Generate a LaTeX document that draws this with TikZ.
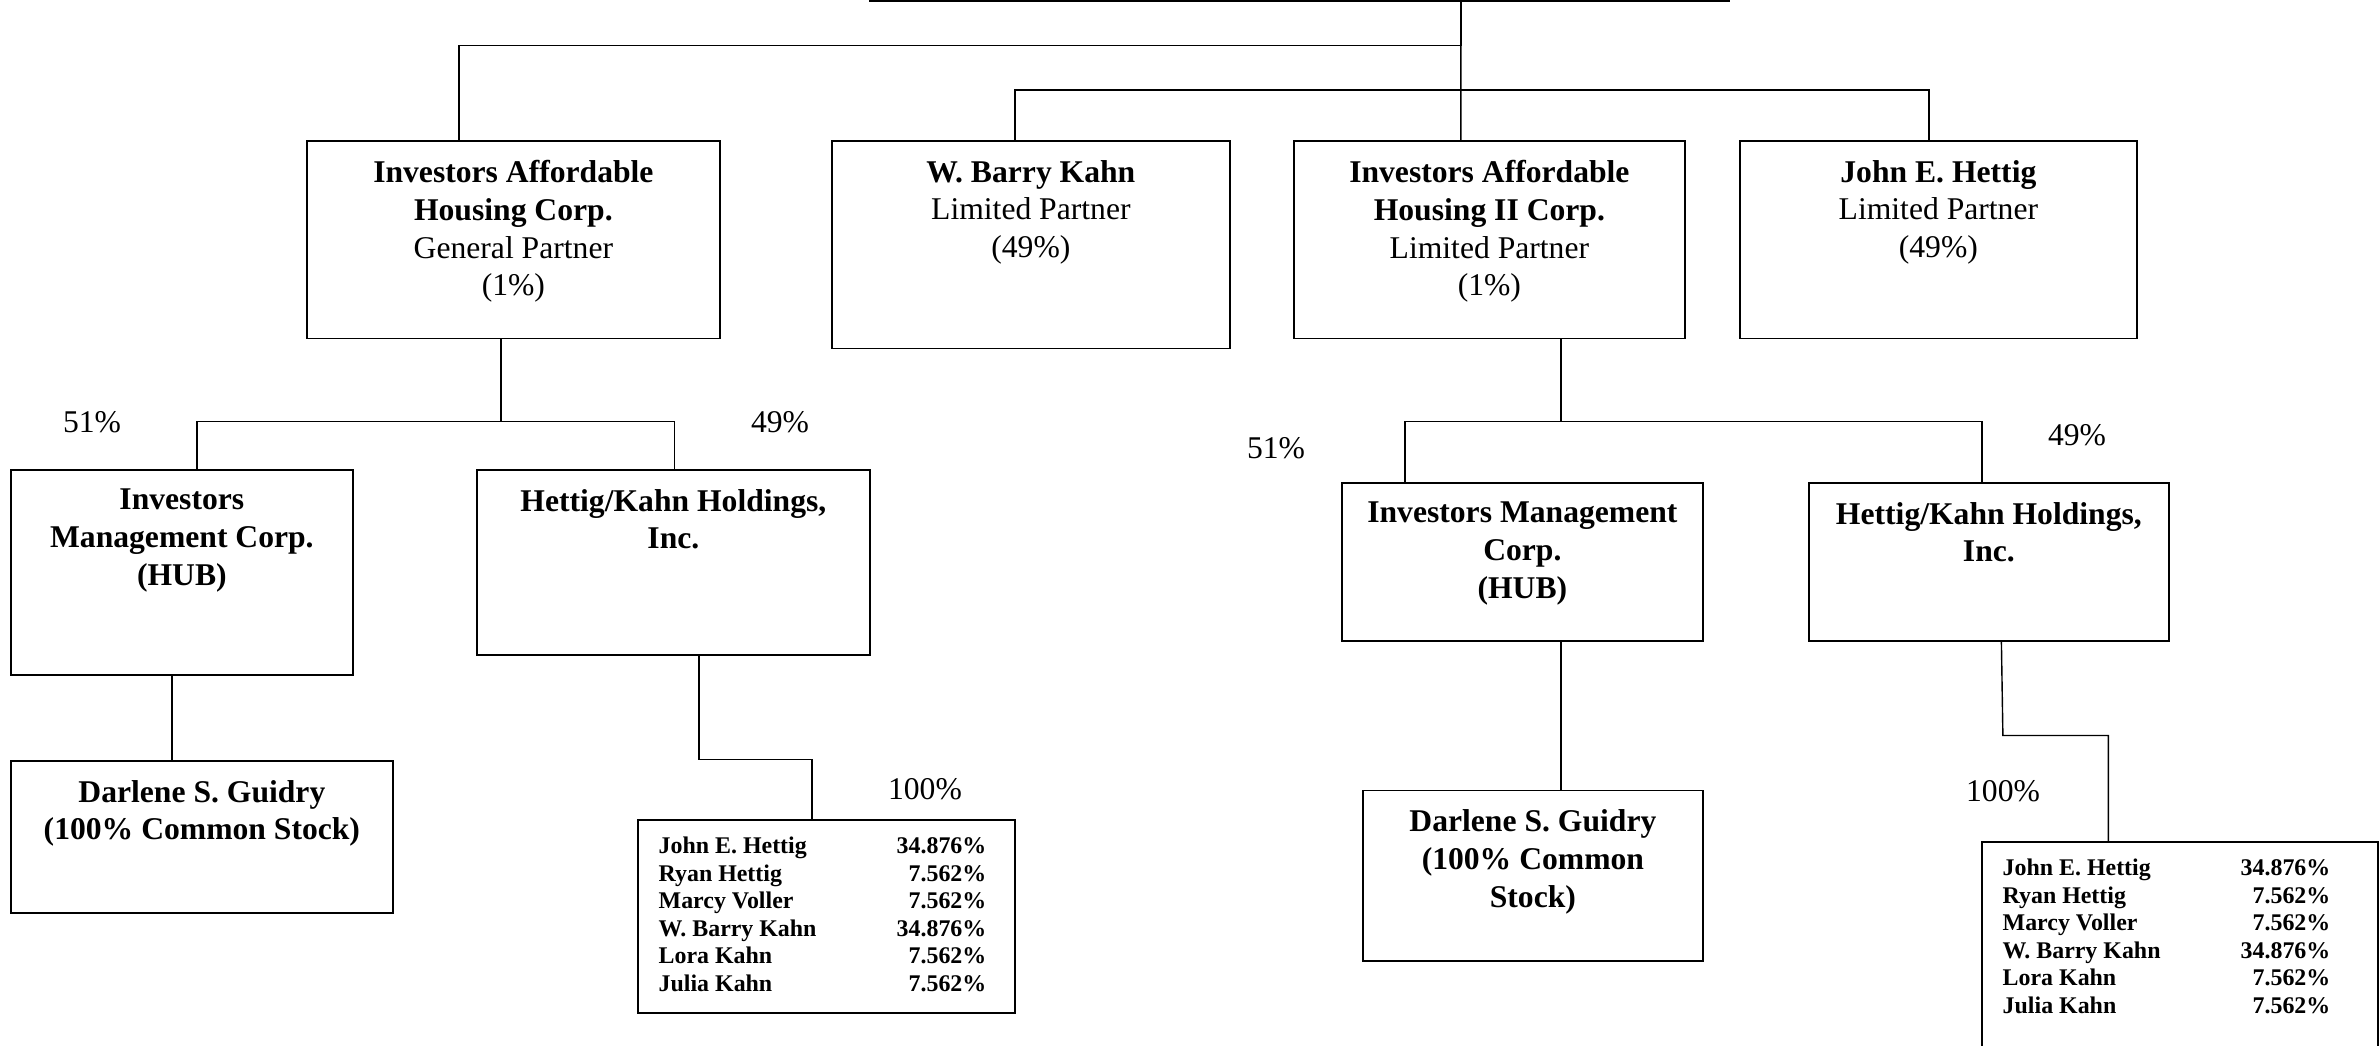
\documentclass[tikz,border=0pt]{standalone}
\usepackage{fontspec}
\setmainfont{Liberation Serif}
\tikzset{
  box/.style 2 args={draw, line width=0.5pt, inner sep=0pt, anchor=north west,
    minimum width=#1cm, minimum height=#2cm},
  link/.style={line width=0.4pt},
  head/.style={anchor=north, inner sep=0pt, align=center, font=\fontsize{9}{10.75}\selectfont},
  pct/.style={inner sep=0pt, font=\fontsize{9}{10.75}\selectfont},
  share/.style={inner sep=0pt, font=\bfseries\fontsize{6.8}{7.85}\selectfont},
}
\begin{document}
\begin{tikzpicture}
\useasboundingbox (0,0) rectangle (23.79,-10.45);
% boxes
\node[box={8.59}{1}, anchor=south west] (top) at (8.69,-0.02) {};
\node[box={4.13}{1.975}] (iah) at (3.06,-1.40) {};
\node[box={3.98}{2.075}] (wbk) at (8.31,-1.40) {};
\node[box={3.91}{1.975}] (iah2) at (12.93,-1.40) {};
\node[box={3.97}{1.975}] (jeh) at (17.39,-1.40) {};
\node[box={3.42}{2.05}] (imc) at (0.10,-4.69) {};
\node[box={3.93}{1.85}] (hkh) at (4.76,-4.69) {};
\node[box={3.82}{1.52}] (dsg) at (0.10,-7.60) {};
\node[box={3.77}{1.93}] (own) at (6.37,-8.19) {};
\node[box={3.61}{1.58}] (imc2) at (13.41,-4.82) {};
\node[box={3.60}{1.58}] (hkh2) at (18.08,-4.82) {};
\node[box={3.40}{1.705}] (dsg2) at (13.62,-7.895) {};
\node[box={3.96}{2.5}] (own2) at (19.81,-8.41) {};

% box texts
\node[head] (iah-t) at ([yshift=-1.95mm]iah.north)
  {\textbf{Investors Affordable}\\\textbf{Housing Corp.}\\General Partner\\(1\%)};
\node[head] (wbk-t) at ([yshift=-1.95mm]wbk.north)
  {\textbf{W. Barry Kahn}\\Limited Partner\\(49\%)};
\node[head] (iah2-t) at ([yshift=-1.95mm]iah2.north)
  {\textbf{Investors Affordable}\\\textbf{Housing II Corp.}\\Limited Partner\\(1\%)};
\node[head] (jeh-t) at ([yshift=-1.95mm]jeh.north)
  {\textbf{John E. Hettig}\\Limited Partner\\(49\%)};
\node[head] (imc-t) at ([yshift=-1.95mm]imc.north)
  {\textbf{Investors}\\\textbf{Management Corp.}\\\textbf{(HUB)}};
\node[head] (hkh-t) at ([yshift=-1.95mm]hkh.north)
  {\textbf{Hettig/Kahn Holdings,}\\\textbf{Inc.}};
\node[head] (dsg-t) at ([yshift=-1.95mm]dsg.north)
  {\textbf{Darlene S. Guidry}\\\textbf{(100\% Common Stock)}};
\node[head] (imc2-t) at ([yshift=-1.95mm]imc2.north)
  {\textbf{Investors Management}\\\textbf{Corp.}\\\textbf{(HUB)}};
\node[head] (hkh2-t) at ([yshift=-1.95mm]hkh2.north)
  {\textbf{Hettig/Kahn Holdings,}\\\textbf{Inc.}};
\node[head] (dsg2-t) at ([yshift=-1.95mm]dsg2.north)
  {\textbf{Darlene S. Guidry}\\\textbf{(100\% Common}\\\textbf{Stock)}};

% shareholders
\foreach \who in {own,own2}{
  \foreach \nm/\pc [count=\i] in {John E. Hettig/34.876\%, Ryan Hettig/7.562\%,
      Marcy Voller/7.562\%, W. Barry Kahn/34.876\%, Lora Kahn/7.562\%, Julia Kahn/7.562\%}{
    \pgfmathsetmacro{\dy}{-0.345-(\i-1)*0.276}
    \node[share, anchor=base west] (\who-n\i) at ([xshift=2.1mm, yshift=\dy cm]\who.north west) {\nm};
    \node[share, anchor=base east] (\who-p\i) at ([xshift=35mm, yshift=\dy cm]\who.north west) {\pc};
  }
}

% percentages
\node[pct] (p51a) at (0.92,-4.22) {51\%};
\node[pct] (p49a) at (7.80,-4.22) {49\%};
\node[pct] (p100a) at (9.25,-7.89) {100\%};
\node[pct] (p51b) at (12.76,-4.48) {51\%};
\node[pct] (p49b) at (20.77,-4.35) {49\%};
\node[pct] (p100b) at (20.03,-7.91) {100\%};

% connectors
\coordinate (trunk) at ([xshift=16.15mm]top.south);
\draw[link] (trunk) -- ([xshift=-2.85mm]iah2.north);
\draw[link] ([xshift=-5.45mm]iah.north) -- ++(0,0.943) -| (trunk);
\draw[link] ([xshift=-1.6mm]wbk.north) -- ++(0,0.50) -| ([xshift=-0.95mm]jeh.north);

\draw[link] ([xshift=-1.25mm]iah.south) -- ++(0,-0.82) coordinate (lj);
\draw[link] ([xshift=1.5mm]imc.north) |- (lj) -| ([xshift=0.1mm]hkh.north);
\draw[link] ([xshift=-1mm]imc.south) coordinate (a) -- (a |- dsg.north);
\draw[link] ([xshift=2.55mm]hkh.south) |- ([xshift=-1.45mm, yshift=5.94mm]own.north)
  -- ([xshift=-1.45mm]own.north);

\draw[link] ([xshift=7.15mm]iah2.south) -- ++(0,-0.82) coordinate (rj);
\draw[link] ([xshift=-11.75mm]imc2.north) |- (rj) -| ([xshift=-0.7mm]hkh2.north);
\draw[link] ([xshift=3.85mm]imc2.south) coordinate (b) -- (b |- dsg2.north);
\draw[link] ([xshift=1.25mm]hkh2.south) -- ++(0.015,-0.937) -| ([xshift=-7.15mm]own2.north);
\end{tikzpicture}
\end{document}
